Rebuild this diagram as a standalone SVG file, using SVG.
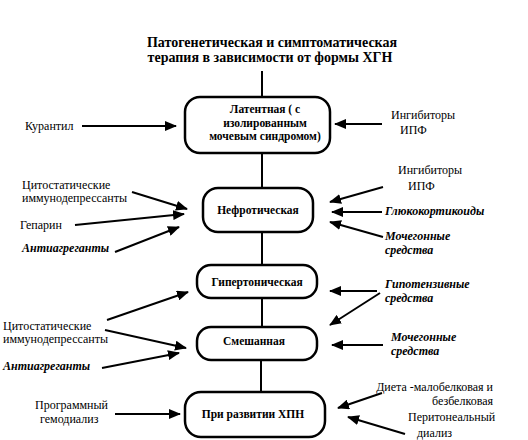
<svg xmlns="http://www.w3.org/2000/svg" width="528" height="440" viewBox="0 0 528 440">
<defs>
<marker id="ah" markerUnits="userSpaceOnUse" markerWidth="12" markerHeight="10" refX="11" refY="5" orient="auto"><path d="M0,0 L12,5 L0,10 Z" fill="#000"/></marker>
<style>
text{fill:#000}
.t{font-size:14px;font-weight:bold}
.b{font-size:11.5px;font-weight:bold}
.l{font-size:12px}
.i{font-size:12px;font-weight:bold;font-style:italic}
.box{fill:#fff;stroke:#000;stroke-width:2.5}
.ln{stroke:#000;stroke-width:2;fill:none}
.ar{stroke:#000;stroke-width:2;fill:none;marker-end:url(#ah)}
</style>
</defs>
<rect width="528" height="440" fill="#fff"/>
<g id="title" font-family="'Liberation Serif', 'DejaVu Serif', serif">
<text class="t" x="272" y="47" text-anchor="middle">Патогенетическая и симптоматическая</text>
<text class="t" x="270" y="62" text-anchor="middle">терапия в зависимости от формы ХГН</text>
</g>
<g id="connectors">
<line class="ln" x1="262" y1="71" x2="262" y2="97"/>
<line class="ln" x1="262" y1="153" x2="262" y2="188"/>
<line class="ln" x1="262" y1="232" x2="262" y2="265"/>
<line class="ln" x1="262" y1="298" x2="262" y2="327"/>
<line class="ln" x1="261" y1="360" x2="261" y2="392"/>
<line class="ar" x1="82" y1="126" x2="176" y2="126"/>
<line class="ar" x1="382" y1="124" x2="335" y2="124"/>
<line class="ar" x1="132" y1="192" x2="187" y2="209"/>
<line class="ar" x1="75" y1="225" x2="184" y2="214"/>
<line class="ar" x1="115" y1="252" x2="179" y2="227"/>
<line class="ar" x1="383" y1="187" x2="330" y2="202"/>
<line class="ar" x1="382" y1="212" x2="332" y2="212"/>
<line class="ar" x1="383" y1="237" x2="330" y2="222"/>
<line class="ar" x1="107" y1="320" x2="188" y2="292"/>
<line class="ar" x1="105" y1="330" x2="186" y2="348"/>
<line class="ar" x1="102" y1="368" x2="179" y2="353"/>
<line class="ar" x1="377" y1="291" x2="330" y2="291"/>
<line class="ar" x1="380" y1="293" x2="330" y2="325"/>
<line class="ar" x1="383" y1="345" x2="332" y2="345"/>
<line class="ar" x1="115" y1="414" x2="180" y2="414"/>
<line class="ar" x1="382" y1="393" x2="338" y2="408"/>
<line class="ar" x1="405" y1="434" x2="348" y2="417"/>
</g>
<g font-family="'Liberation Serif', 'DejaVu Serif', serif">
<g id="n-latent">
<rect class="box" x="185" y="97" width="145" height="56" rx="15"/>
<text class="b" x="265" y="113" text-anchor="middle">Латентная ( с</text>
<text class="b" x="265" y="127" text-anchor="middle">изолированным</text>
<text class="b" x="265" y="140" text-anchor="middle">мочевым синдромом)</text>
</g>
<g id="n-nephrotic">
<rect class="box" x="203" y="188" width="110" height="44" rx="15"/>
<text class="b" x="258" y="214" text-anchor="middle">Нефротическая</text>
</g>
<g id="n-hypertonic">
<rect class="box" x="197" y="265" width="120" height="33" rx="14"/>
<text class="b" x="257" y="286" text-anchor="middle">Гипертоническая</text>
</g>
<g id="n-mixed">
<rect class="box" x="197" y="327" width="120" height="33" rx="14"/>
<text class="b" x="254" y="345" text-anchor="middle">Смешанная</text>
</g>
<g id="n-chpn">
<rect class="box" x="185" y="392" width="140" height="45" rx="16"/>
<text class="b" x="253" y="418" text-anchor="middle">При развитии ХПН</text>
</g>
<g id="labels">
<text class="l" x="25" y="130">Курантил</text>
<text class="l" x="391" y="119">Ингибиторы</text>
<text class="l" x="400" y="134">ИПФ</text>
<text class="l" x="22" y="189">Цитостатические</text>
<text class="l" x="22" y="202">иммунодепрессанты</text>
<text class="l" x="20" y="229">Гепарин</text>
<text class="i" x="22" y="252">Антиагреганты</text>
<text class="l" x="398" y="174">Ингибиторы</text>
<text class="l" x="408" y="190">ИПФ</text>
<text class="i" x="385" y="215">Глюкокортикоиды</text>
<text class="i" x="385" y="240">Мочегонные</text>
<text class="i" x="385" y="254">средства</text>
<text class="l" x="3" y="330">Цитостатические</text>
<text class="l" x="3" y="343">иммунодепрессанты</text>
<text class="i" x="3" y="370">Антиагреганты</text>
<text class="i" x="385" y="288">Гипотензивные</text>
<text class="i" x="385" y="302">средства</text>
<text class="i" x="391" y="341">Мочегонные</text>
<text class="i" x="391" y="355">средства</text>
<text class="l" x="35" y="409">Программный</text>
<text class="l" x="40" y="423">гемодиализ</text>
<text class="l" x="493" y="391" text-anchor="end">Диета -малобелковая и</text>
<text class="l" x="493" y="405" text-anchor="end">безбелковая</text>
<text class="l" x="408" y="421">Перитонеальный</text>
<text class="l" x="417" y="437">диализ</text>
</g>
</g>
</svg>
